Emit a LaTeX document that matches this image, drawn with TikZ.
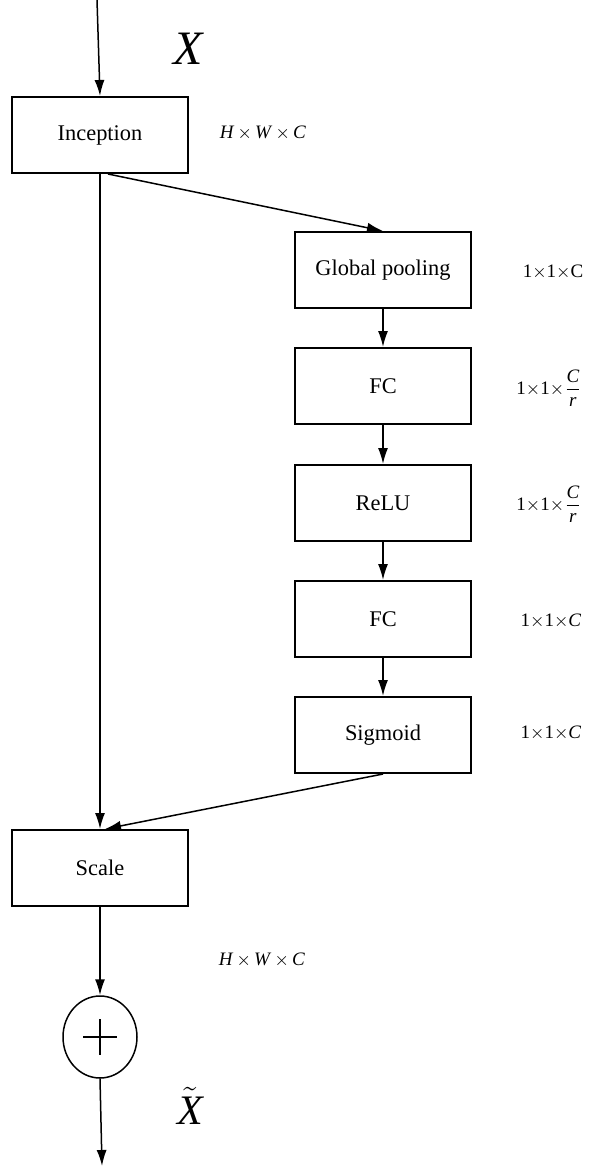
\documentclass[tikz,border=0pt]{standalone}
\usepackage{fontspec}
\setmainfont{Liberation Serif}
\usetikzlibrary{arrows.meta,shapes.geometric,calc}
\begin{document}
\begin{tikzpicture}[x=0.5pt,y=-0.5pt,
  blk/.style={draw,line width=1pt,minimum width=88pt,minimum height=38pt,inner sep=0pt,font=\fontsize{11.2}{13}\selectfont},
  dim/.style={font=\fontsize{9.5}{11}\selectfont,inner sep=0pt},
  arr/.style={line width=0.75pt,-{Latex[length=8pt,width=5pt]}}]
\useasboundingbox (0,0) rectangle (589,1166);
\node[blk] (inc) at (100,135) {Inception};
\node[blk] (gp) at (383,270) {Global pooling};
\node[blk] (fc1) at (383,386) {FC};
\node[blk] (relu) at (383,503) {ReLU};
\node[blk] (fc2) at (383,619) {FC};
\node[blk] (sig) at (383,735) {Sigmoid};
\node[blk] (scale) at (100,868) {Scale};
\node[draw,ellipse,line width=0.75pt,minimum width=37pt,minimum height=41pt,inner sep=0pt] (add) at (100,1037) {};
\draw[line width=1.1pt] ($(add.center)+(-17,0)$) -- ($(add.center)+(17,0)$);
\draw[line width=1.1pt] ($(add.center)+(0,-18)$) -- ($(add.center)+(0,18)$);
\coordinate (in) at (97,0);
\coordinate (out) at (102,1166);
\node[font=\fontsize{24}{24}\selectfont\itshape] (xl) at (188,49) {X};
\node[font=\fontsize{21}{21}\selectfont\itshape] (xt) at (190,1106) {$\tilde{\textit{X}}$};
\node[dim] (d0) at (263,133) {\textit{H}\,$\times$\,\textit{W}\,$\times$\,\textit{C}};
\node[dim] (d1) at (553,272) {1$\times$1$\times$C};
\node[dim] (d2) at (549,388) {1$\times$1$\times$$\displaystyle\frac{\textit{C}}{\textit{r}}$};
\node[dim] (d3) at (549,504) {1$\times$1$\times$$\displaystyle\frac{\textit{C}}{\textit{r}}$};
\node[dim] (d4) at (551,621) {1$\times$1$\times$\textit{C}};
\node[dim] (d5) at (551,733) {1$\times$1$\times$\textit{C}};
\node[dim] (d6) at (262,960) {\textit{H}\,$\times$\,\textit{W}\,$\times$\,\textit{C}};
\draw[arr] (in) -- (inc.north);
\draw[arr] (inc.south) -- (scale.north);
\draw[arr] ($(inc.south)+(8,0)$) -- (gp.north);
\draw[arr] (gp) -- (fc1);
\draw[arr] (fc1) -- (relu);
\draw[arr] (relu) -- (fc2);
\draw[arr] (fc2) -- (sig);
\draw[arr] (sig.south) -- ($(scale.north)+(5,0)$);
\draw[arr] (scale.south) -- (add.north);
\draw[arr] (add.south) -- (out);
\end{tikzpicture}
\end{document}
